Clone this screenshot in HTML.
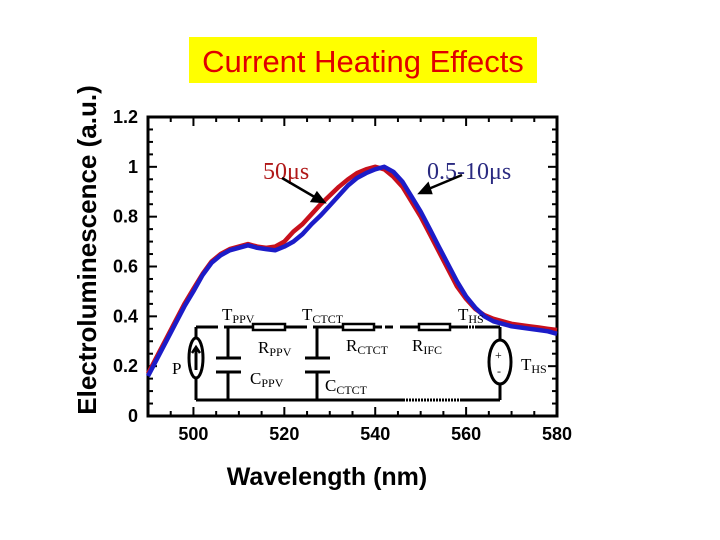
<!DOCTYPE html>
<html><head><meta charset="utf-8"><style>
html,body{margin:0;padding:0;background:#fff;}
svg{display:block;}
text{font-family:"Liberation Sans",sans-serif;}
.ser{font-family:"Liberation Serif",serif;}
</style></head><body>
<svg id="chart" width="720" height="540" viewBox="0 0 720 540">
<rect x="189" y="37" width="348" height="46" fill="#ffff00"/>
<text x="363" y="72" font-size="31" fill="#e00000" text-anchor="middle">Current Heating Effects</text>
<text transform="translate(96,250) rotate(-90)" font-size="26" font-weight="bold" text-anchor="middle">Electroluminescence (a.u.)</text>
<text x="327" y="485" font-size="25" font-weight="bold" text-anchor="middle">Wavelength (nm)</text>
<g id="axes"></g>
<g id="series"></g>
<g id="circuit" stroke="#000" stroke-width="3" fill="none">
<line x1="196" y1="327" x2="218" y2="327"/><line x1="224" y1="327" x2="253" y2="327"/>
<line x1="285" y1="327" x2="307" y2="327"/><line x1="313" y1="327" x2="343" y2="327"/>
<line x1="374" y1="327" x2="396" y2="327" stroke-dasharray="8 3"/><line x1="400" y1="327" x2="419" y2="327"/>
<line x1="450" y1="327" x2="466" y2="327"/><line x1="466" y1="327" x2="476" y2="327" stroke-dasharray="2 1"/><line x1="476" y1="327" x2="500" y2="327"/>
<rect x="253" y="324" width="32" height="6" stroke-width="2.5"/>
<rect x="343" y="324" width="31" height="6" stroke-width="2.5"/>
<rect x="419" y="324" width="31" height="6" stroke-width="2.5"/>
<line x1="196" y1="400" x2="403" y2="400"/><line x1="403" y1="400" x2="460" y2="400" stroke-dasharray="2 1"/><line x1="460" y1="400" x2="500" y2="400"/>
<line x1="196" y1="327" x2="196" y2="338"/><line x1="196" y1="378" x2="196" y2="400"/>
<ellipse cx="196" cy="358" rx="7" ry="20"/>
<line x1="196" y1="370" x2="196" y2="349"/><path d="M192 353 L196 347 L200 353" stroke-width="2.5"/>
<line x1="228" y1="327" x2="228" y2="358"/><line x1="228" y1="372" x2="228" y2="400"/>
<line x1="216" y1="358" x2="241" y2="358"/><line x1="216" y1="372" x2="241" y2="372"/>
<line x1="317" y1="327" x2="317" y2="358"/><line x1="317" y1="372" x2="317" y2="400"/>
<line x1="305" y1="358" x2="330" y2="358"/><line x1="305" y1="372" x2="330" y2="372"/>
<line x1="500" y1="327" x2="500" y2="340"/><line x1="500" y1="385" x2="500" y2="400"/>
<ellipse cx="500" cy="362" rx="11" ry="22"/>
</g>
<g class="ser" font-size="17" fill="#000">
<text x="222" y="320" class="ser">T<tspan font-size="12" dy="3">PPV</tspan></text>
<text x="302" y="320" class="ser">T<tspan font-size="12" dy="3">CTCT</tspan></text>
<text x="458" y="320" class="ser">T<tspan font-size="12" dy="3">HS</tspan></text>
<text x="258" y="353" class="ser">R<tspan font-size="12" dy="3">PPV</tspan></text>
<text x="346" y="351" class="ser">R<tspan font-size="12" dy="3">CTCT</tspan></text>
<text x="412" y="351" class="ser">R<tspan font-size="12" dy="3">IFC</tspan></text>
<text x="250" y="384" class="ser">C<tspan font-size="12" dy="3">PPV</tspan></text>
<text x="325" y="391" class="ser">C<tspan font-size="12" dy="3">CTCT</tspan></text>
<text x="172" y="374" class="ser">P</text>
<text x="521" y="370" class="ser">T<tspan font-size="12" dy="3">HS</tspan></text>
<text x="495" y="359" class="ser" font-size="12">+</text>
<text x="497" y="375" class="ser" font-size="12">-</text>
</g>
<text x="263" y="179" class="ser" font-size="24" fill="#b01818">50μs</text>
<text x="427" y="179" class="ser" font-size="24" fill="#2a2a80">0.5-10μs</text>
<g stroke="#000" stroke-width="2.5" fill="#000">
<line x1="282" y1="178" x2="318" y2="199"/>
<path d="M324 202 L312 201 L317 193 Z"/>
<line x1="462" y1="175" x2="426" y2="190"/>
<path d="M420 193 L428 184 L431 193 Z"/>
</g>
</svg>
<script>
const wavelengths=[490,492,494,496,498,500,502,504,506,508,510,512,514,516,518,520,522,524,526,528,530,532,534,536,538,540,542,544,546,548,550,552,554,556,558,560,562,564,566,568,570,572,574,576,578,580];
const red50us=[0.17,0.24,0.31,0.38,0.45,0.51,0.57,0.62,0.65,0.67,0.68,0.69,0.68,0.675,0.68,0.70,0.74,0.77,0.81,0.85,0.885,0.92,0.95,0.975,0.99,1.0,0.99,0.96,0.92,0.86,0.80,0.73,0.66,0.59,0.52,0.47,0.43,0.405,0.39,0.38,0.37,0.365,0.36,0.355,0.35,0.345];
const blue05to10us=[0.16,0.23,0.30,0.37,0.44,0.50,0.565,0.615,0.645,0.665,0.675,0.685,0.675,0.67,0.665,0.68,0.70,0.73,0.77,0.805,0.845,0.885,0.925,0.955,0.975,0.99,1.0,0.98,0.94,0.88,0.82,0.75,0.68,0.61,0.54,0.48,0.435,0.40,0.38,0.37,0.36,0.355,0.35,0.345,0.34,0.33];
const xTickLabels=[500,520,540,560,580];
const yTickLabels=[0,0.2,0.4,0.6,0.8,1,1.2];
const NS="http://www.w3.org/2000/svg";
const L=148,R=557,T=117,B=416,X0=490,X1=580,Y0=0,Y1=1.2;
function sx(v){return L+(v-X0)/(X1-X0)*(R-L);}
function sy(v){return B-(v-Y0)/(Y1-Y0)*(B-T);}
function mk(tag,attrs,parent){const e=document.createElementNS(NS,tag);for(const k in attrs)e.setAttribute(k,attrs[k]);parent.appendChild(e);return e;}
const axes=document.getElementById('axes');
const frame=mk('rect',{x:L,y:T,width:R-L,height:B-T,fill:'none',stroke:'#000','stroke-width':3},axes);


for(let v=X0;v<=X1+0.01;v+=5){
  const major=(v%20===0);const len=major?9:5;const x=sx(v);
  mk('line',{x1:x,y1:B,x2:x,y2:B-len,stroke:'#000','stroke-width':2},axes);
  mk('line',{x1:x,y1:T,x2:x,y2:T+len,stroke:'#000','stroke-width':2},axes);
}
for(let i=0;i<=24;i++){
  const v=i*0.05;const major=(i%4===0);const len=major?9:5;const y=sy(v);
  mk('line',{x1:L,y1:y,x2:L+len,y2:y,stroke:'#000','stroke-width':2},axes);
  mk('line',{x1:R,y1:y,x2:R-len,y2:y,stroke:'#000','stroke-width':2},axes);
}
xTickLabels.forEach(v=>{
  const t=mk('text',{x:sx(v),y:B+24,'font-size':18,'font-weight':'bold','text-anchor':'middle'},axes);
  t.textContent=v;
  
  
});
yTickLabels.forEach(v=>{
  const t=mk('text',{x:138,y:sy(v)+6,'font-size':18,'font-weight':'bold','text-anchor':'end'},axes);
  t.textContent=v;
  
  
});
const series=document.getElementById('series');
function line(vals,color,name){
  const d=vals.map((v,i)=>(i?'L':'M')+sx(wavelengths[i]).toFixed(1)+' '+sy(v).toFixed(1)).join(' ');
  const p=mk('path',{d:d,fill:'none',stroke:color,'stroke-width':4.5,'stroke-linejoin':'round'},series);
  
  
}
line(red50us,'#c8101c','series-50us');
line(blue05to10us,'#1c1cc8','series-0.5-10us');
</script>
</body></html>
